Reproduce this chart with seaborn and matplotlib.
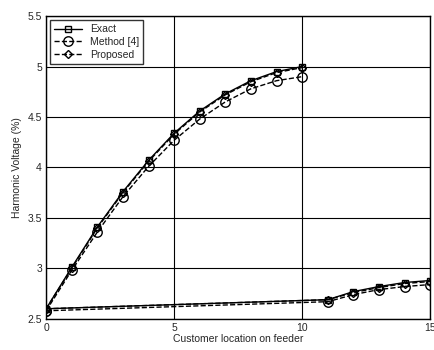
import numpy as np
import pandas as pd
import matplotlib
matplotlib.use("Agg")
import matplotlib.pyplot as plt
import seaborn as sns

# branch 1: customers 0..10, branch 2: customer 0 then 11..15
x_branch1 = [0, 1, 2, 3, 4, 5, 6, 7, 8, 9, 10]
x_branch2 = [0, 11, 12, 13, 14, 15]

exact_b1 = [2.60, 3.01, 3.41, 3.76, 4.07, 4.34, 4.56, 4.73, 4.86, 4.95, 5.00]
method_b1 = [2.58, 2.98, 3.36, 3.71, 4.01, 4.27, 4.48, 4.65, 4.78, 4.86, 4.90]
proposed_b1 = [2.60, 3.00, 3.40, 3.75, 4.06, 4.33, 4.55, 4.72, 4.85, 4.94, 4.99]

exact_b2 = [2.60, 2.69, 2.77, 2.82, 2.86, 2.88]
method_b2 = [2.58, 2.67, 2.74, 2.79, 2.82, 2.84]
proposed_b2 = [2.60, 2.69, 2.76, 2.81, 2.85, 2.87]

sns.set_style("white")
plt.rcParams['font.family'] = ['Liberation Sans', 'DejaVu Sans']

fig = plt.figure(figsize=(4.35, 3.5), dpi=100)
ax = fig.add_axes([0.106, 0.089, 0.883, 0.865])

series = [
    ("Exact", exact_b1, exact_b2, "s", "-", 4.5),
    ("Method [4]", method_b1, method_b2, "o", "--", 6.8),
    ("Proposed", proposed_b1, proposed_b2, "D", "--", 4.2),
]
for name, b1, b2, mk, ls, ms in series:
    for i, (xs, ys) in enumerate([(x_branch1, b1), (x_branch2, b2)]):
        df = pd.DataFrame({"x": xs, "y": ys})
        sns.lineplot(data=df, x="x", y="y", ax=ax, color="black", linestyle=ls,
                     linewidth=1.0, marker=mk, markersize=ms, markerfacecolor="none",
                     markeredgecolor="black", markeredgewidth=1.0,
                     label=name if i == 0 else None, legend=False)

ax.set_xlim(0, 15)
ax.set_ylim(2.5, 5.5)
ax.set_xticks([0, 5, 10, 15])
ax.set_yticks([2.5, 3, 3.5, 4, 4.5, 5, 5.5])
ax.set_yticklabels(["2.5", "3", "3.5", "4", "4.5", "5", "5.5"])
ax.grid(True, color="black", linewidth=0.8)
for s in ax.spines.values():
    s.set_color("black")
    s.set_linewidth(1.0)
ax.tick_params(labelsize=7.5, length=0, pad=3)
ax.set_xlabel("Customer location on feeder", fontsize=7.5, labelpad=1)
ax.set_ylabel("Harmonic Voltage (%)", fontsize=7.5, labelpad=4)

leg = ax.legend(loc="upper left", fontsize=7.5, frameon=True, fancybox=False,
                edgecolor="black", handlelength=2.6, borderaxespad=0.4,
                labelspacing=0.25, borderpad=0.4)
leg.get_frame().set_linewidth(1.0)

fig.savefig("out.png", dpi=100)
